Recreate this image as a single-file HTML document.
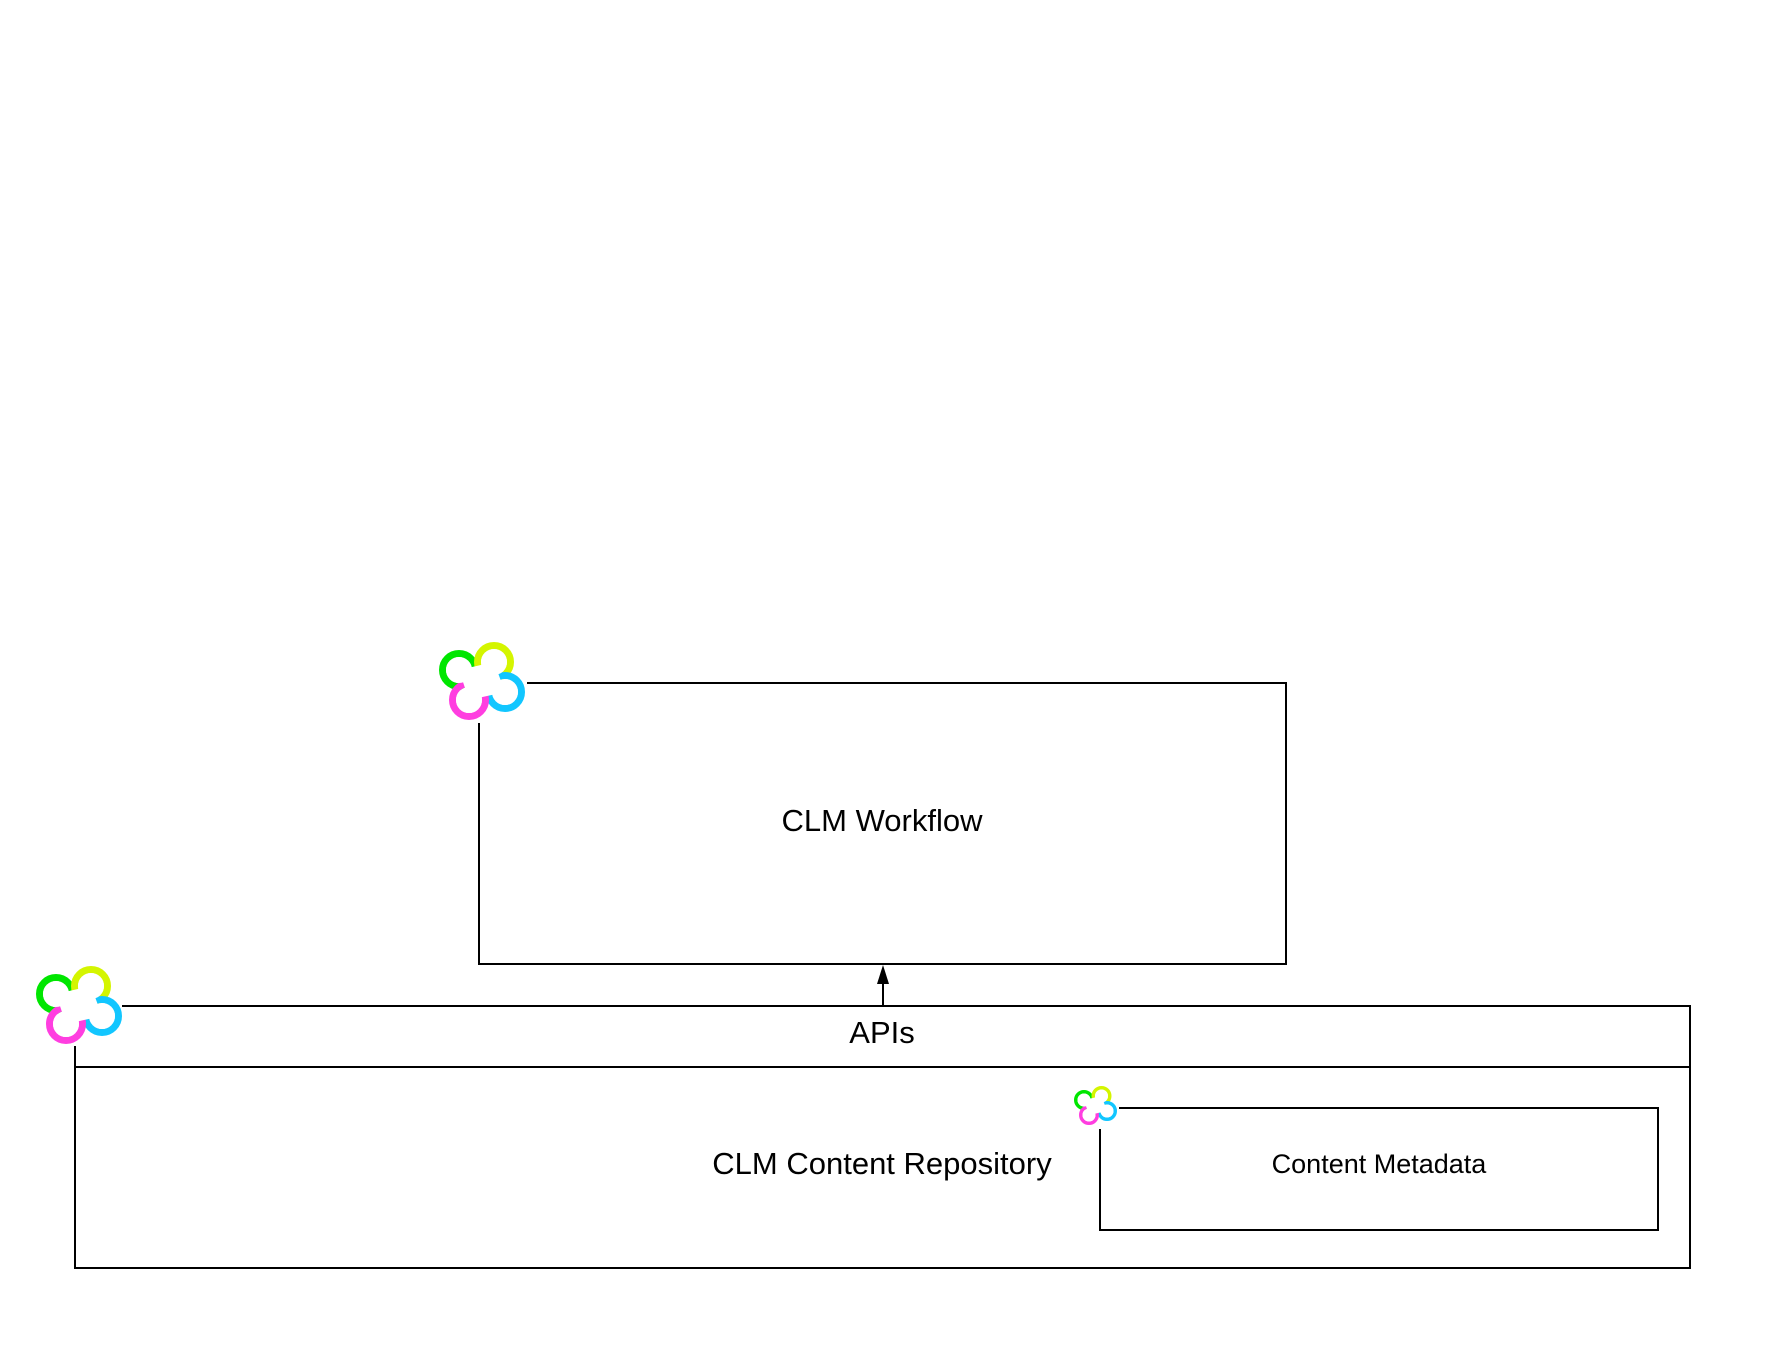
<!DOCTYPE html>
<html><head><meta charset="utf-8"><style>
body{margin:0;background:#fff;}
svg{display:block}
text{font-family:"Liberation Sans",Arial,sans-serif;fill:#000}
</style></head><body>
<svg width="1769" height="1367" viewBox="0 0 1769 1367" xmlns="http://www.w3.org/2000/svg">
<defs>
<g id="ic">
  <circle cx="22" cy="30" r="16.5" fill="none" stroke="#00e600" stroke-width="7"/>
  <circle cx="57" cy="22" r="16.5" fill="none" stroke="#d4f500" stroke-width="7"/>
  <circle cx="68" cy="52" r="16.5" fill="none" stroke="#12c6ff" stroke-width="7"/>
  <circle cx="32" cy="60" r="16.5" fill="none" stroke="#ff3ee0" stroke-width="7"/>
  <circle cx="22" cy="30" r="13" fill="#fff"/>
  <circle cx="57" cy="22" r="13" fill="#fff"/>
  <circle cx="68" cy="52" r="13" fill="#fff"/>
  <circle cx="32" cy="60" r="13" fill="#fff"/>
  <polygon points="22,30 57,22 68,52 32,60" fill="#fff"/>
</g>
</defs>
<rect x="0" y="0" width="1769" height="1367" fill="#fff"/>
<!-- workflow -->
<rect x="479" y="683" width="807" height="281" fill="none" stroke="#000" stroke-width="2"/>
<rect x="432" y="635" width="95" height="88" fill="#fff"/>
<use href="#ic" x="437" y="640"/>
<text x="882" y="831" font-size="31" text-anchor="middle">CLM Workflow</text>
<!-- arrow -->
<line x1="883" y1="1006" x2="883" y2="980" stroke="#000" stroke-width="2"/>
<polygon points="883,965 877,984 889,984" fill="#000"/>
<!-- repository -->
<rect x="75" y="1006" width="1615" height="262" fill="none" stroke="#000" stroke-width="2"/>
<line x1="75" y1="1067" x2="1690" y2="1067" stroke="#000" stroke-width="2"/>
<rect x="28" y="958" width="94" height="88" fill="#fff"/>
<use href="#ic" x="34" y="964"/>
<text x="882" y="1043" font-size="31" text-anchor="middle">APIs</text>
<text x="882" y="1174" font-size="31" text-anchor="middle">CLM Content Repository</text>
<!-- metadata -->
<rect x="1100" y="1108" width="558" height="122" fill="none" stroke="#000" stroke-width="2"/>
<rect x="1069" y="1083" width="50" height="46" fill="#fff"/>
<g transform="translate(1073,1085) scale(0.5)"><use href="#ic"/></g>
<text x="1379" y="1173" font-size="27" text-anchor="middle">Content Metadata</text>
</svg>
</body></html>
